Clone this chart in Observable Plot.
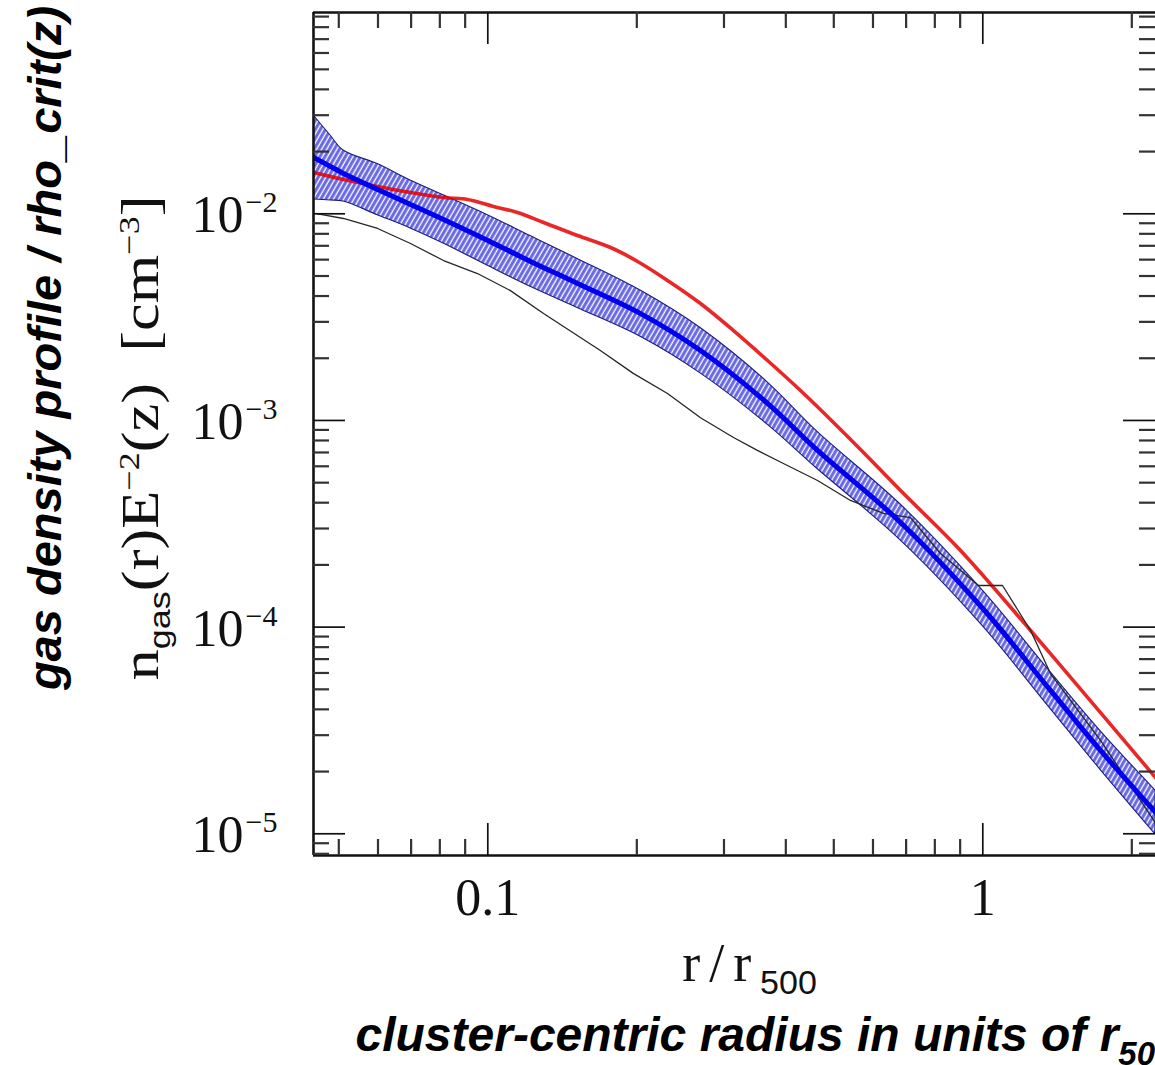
<!DOCTYPE html>
<html>
<head>
<meta charset="utf-8">
<script src="https://cdn.jsdelivr.net/npm/d3@7"></script>
<script src="https://cdn.jsdelivr.net/npm/@observablehq/plot@0.6"></script>
<style>
  html, body { margin: 0; padding: 0; background: #fff; overflow: hidden; }
  svg text { white-space: pre; }
</style>
</head>
<body>
<div id="chart"></div>
<script>
// ---------------- data ----------------
const xDomain = [0.04445, 2.233];
const yDomain = [7.85e-6, 9.42e-2];

// red curve
const redR = [0.0445, 0.0511, 0.0599, 0.0698, 0.0814, 0.0910, 0.1027, 0.1148, 0.1296, 0.1518, 0.1770, 0.2007, 0.2307, 0.2690, 0.3136, 0.3674, 0.4282, 0.4993, 0.5741, 0.6821, 0.9015, 1.249, 1.729, 2.233];
const redV = [0.01585, 0.01466, 0.01356, 0.01268, 0.01199, 0.01173, 0.01085, 0.01015, 0.00908, 0.00785, 0.00687, 0.00588, 0.00476, 0.00368, 0.00272, 0.00195, 0.001396, 0.000978, 0.000700, 0.000458, 0.000235, 0.0000963, 0.0000386, 0.0000187];

// blue band (hatched) and its central line
const bandR   = [0.0445, 0.0481, 0.0511, 0.0599, 0.0698, 0.0814, 0.1, 0.1220, 0.1518, 0.2035, 0.2690, 0.3674, 0.4636, 0.6821, 1.0, 1.370, 1.729, 2.233];
const bandHi  = [0.02990, 0.02393, 0.02024, 0.01740, 0.01450, 0.01230, 0.00985, 0.00780, 0.00605, 0.00425, 0.00280, 0.00153, 0.000880, 0.000392, 0.000150, 0.0000606, 0.0000314, 0.0000162];
const bandLo  = [0.01173, 0.01160, 0.01147, 0.00985, 0.00850, 0.00718, 0.00560, 0.00443, 0.00350, 0.00254, 0.00169, 0.000955, 0.000582, 0.000263, 0.000101, 0.0000402, 0.0000204, 0.00000992];
const blueMid = [0.01873, 0.01694, 0.01567, 0.01311, 0.01109, 0.00938, 0.00743, 0.00588, 0.00460, 0.00329, 0.00218, 0.00121, 0.000716, 0.000321, 0.000123, 0.0000494, 0.0000253, 0.0000127];

// thin black curve
const blackR = [0.0451, 0.0511, 0.0599, 0.0698, 0.0814, 0.0953, 0.1111, 0.1296, 0.1688, 0.1967, 0.2307, 0.2690, 0.3136, 0.3504, 0.3955, 0.4636, 0.5404, 0.6301, 0.7144, 0.8214, 0.9802, 1.0960, 1.249, 1.370, 1.729, 2.233];
const blackV = [0.01003, 0.00949, 0.00849, 0.00718, 0.00594, 0.00514, 0.00425, 0.00329, 0.00218, 0.00169, 0.00135, 0.00103, 0.000827, 0.000716, 0.000619, 0.000512, 0.000410, 0.000355, 0.000339, 0.000227, 0.000159, 0.000159, 0.0000963, 0.0000596, 0.0000283, 0.0000113];

// ticks and tick labels
const xMajorTicks = [0.1, 1];
const xTickLabels = ["0.1", "1"];
const xMinorTicks = [0.05, 0.06, 0.07, 0.08, 0.09, 0.2, 0.3, 0.4, 0.5, 0.6, 0.7, 0.8, 0.9, 2];
const yMajorTicks = [1e-2, 1e-3, 1e-4, 1e-5];
const yTickBase = "10";
const yTickExponents = ["\u22122", "\u22123", "\u22124", "\u22125"];
const yMinorTicks = [
  8e-6, 9e-6,
  2e-5, 3e-5, 4e-5, 5e-5, 6e-5, 7e-5, 8e-5, 9e-5,
  2e-4, 3e-4, 4e-4, 5e-4, 6e-4, 7e-4, 8e-4, 9e-4,
  2e-3, 3e-3, 4e-3, 5e-3, 6e-3, 7e-3, 8e-3, 9e-3,
  2e-2, 3e-2, 4e-2, 5e-2, 6e-2, 7e-2, 8e-2, 9e-2
];

// axis titles (pieces: normal / sub / sup)
const yTitleParts = ["n", "gas", "(r)E", "\u22122", "(z)  [cm", "\u22123", "]"];
const yTitleRoles = ["", "sub", "", "sup", "", "sup", ""];
const xTitleParts = ["r/r", "500"];
const xTitleRoles = ["", "sub"];
const captionLeft = "gas density profile / rho_crit(z)";
const captionBottomParts = ["cluster-centric radius in units of r", "500"];
const captionBottomRoles = ["", "sub"];

// ---------------- build ----------------
const red = redR.map((r, i) => ({r, v: redV[i]}));
const band = bandR.map((r, i) => ({r, lo: bandLo[i], hi: bandHi[i], mid: blueMid[i]}));
const black = blackR.map((r, i) => ({r, v: blackV[i]}));

const W = 1155, H = 1065, mL = 313, mT = 12, mR = 0, mB = 210;
const iw = W - mL - mR, ih = H - mT - mB;
const minorLen = 16, majorLen = 32;
const serif = "Liberation Serif, Times New Roman, serif";
const sans = "Liberation Sans, Arial, sans-serif";
const join = a => a.join("");

const svg = Plot.plot({
  width: W, height: H,
  marginLeft: mL, marginTop: mT, marginRight: mR, marginBottom: mB,
  x: {type: "log", domain: xDomain, axis: null},
  y: {type: "log", domain: yDomain, axis: null},
  style: {background: "#fff", overflow: "hidden"},
  marks: [
    // data
    Plot.areaY(band, {x: "r", y1: "lo", y2: "hi", fill: "url(#hatch)", stroke: "#1c1c7a", strokeWidth: 1.1, curve: "catmull-rom", clip: true}),
    Plot.line(red, {x: "r", y: "v", stroke: "#e60000", strokeOpacity: 0.85, strokeWidth: 3.6, curve: "catmull-rom", clip: true}),
    Plot.line(black, {x: "r", y: "v", stroke: "#262626", strokeWidth: 1.3, clip: true}),
    Plot.line(band, {x: "r", y: "mid", stroke: "#0000ee", strokeWidth: 5, curve: "catmull-rom", clip: true}),

    // frame (right side lies outside the picture)
    Plot.ruleX([xDomain[0]], {stroke: "#111", strokeWidth: 2.6}),
    Plot.ruleY([yDomain[0]], {stroke: "#111", strokeWidth: 2.6}),
    Plot.ruleY([yDomain[1]], {stroke: "#111", strokeWidth: 2.6}),

    // inward ticks on four sides
    Plot.tickX(xMinorTicks, {x: d => d, insetTop: ih - minorLen, stroke: "#333", strokeWidth: 2.2}),
    Plot.tickX(xMinorTicks, {x: d => d, insetBottom: ih - minorLen, stroke: "#333", strokeWidth: 2.2}),
    Plot.tickX(xMajorTicks, {x: d => d, insetTop: ih - majorLen, stroke: "#111", strokeWidth: 1.7}),
    Plot.tickX(xMajorTicks, {x: d => d, insetBottom: ih - majorLen, stroke: "#111", strokeWidth: 1.7}),
    Plot.tickY(yMinorTicks, {y: d => d, insetRight: iw - minorLen, stroke: "#333", strokeWidth: 2.2}),
    Plot.tickY(yMinorTicks, {y: d => d, insetLeft: iw - minorLen, stroke: "#333", strokeWidth: 2.2}),
    Plot.tickY(yMajorTicks, {y: d => d, insetRight: iw - majorLen, stroke: "#111", strokeWidth: 1.7}),
    Plot.tickY(yMajorTicks, {y: d => d, insetLeft: iw - majorLen, stroke: "#111", strokeWidth: 1.7}),

    // tick labels
    Plot.text(xMajorTicks, {x: d => d, text: (d, i) => xTickLabels[i], frameAnchor: "bottom", textAnchor: "middle", lineAnchor: "middle", dy: 43, fontFamily: serif, fontSize: 52, fill: "#111"}),
    Plot.text(yMajorTicks, {y: d => d, text: () => yTickBase, frameAnchor: "left", textAnchor: "end", lineAnchor: "middle", dx: -70, dy: 2, fontFamily: serif, fontSize: 52, fill: "#111"}),
    Plot.text(yMajorTicks, {y: d => d, text: (d, i) => yTickExponents[i], frameAnchor: "left", textAnchor: "start", lineAnchor: "middle", dx: -68, dy: -11, fontFamily: serif, fontSize: 30, fill: "#111"}),

    // axis titles
    Plot.text([join(yTitleParts)], {text: d => d, frameAnchor: "left", textAnchor: "middle", lineAnchor: "middle", rotate: -90, dx: -172, dy: 4, fontFamily: serif, fontSize: 52, fill: "#111"}),
    Plot.text([join(xTitleParts)], {text: d => d, frameAnchor: "bottom", textAnchor: "middle", lineAnchor: "middle", dx: 15, dy: 108, fontFamily: serif, fontSize: 54, fill: "#111"}),
    Plot.text([captionLeft], {text: d => d, frameAnchor: "left", textAnchor: "middle", lineAnchor: "middle", rotate: -90, dx: -268, dy: -86, fontFamily: sans, fontSize: 47, fontWeight: "bold", fontStyle: "italic", fill: "#000"}),
    Plot.text([join(captionBottomParts)], {text: d => d, frameAnchor: "bottom-left", textAnchor: "start", lineAnchor: "middle", dx: 42, dy: 180, fontFamily: sans, fontSize: 48, fontWeight: "bold", fontStyle: "italic", fill: "#000"})
  ]
});

// hatch pattern for the blue band
const defs = d3.select(svg).insert("defs", ":first-child");
const pat = defs.append("pattern").attr("id", "hatch").attr("patternUnits", "userSpaceOnUse")
  .attr("width", 4.4).attr("height", 4.4).attr("patternTransform", "rotate(30)");
pat.append("rect").attr("width", 4.4).attr("height", 4.4).attr("fill", "#5858e2").attr("fill-opacity", 0.9);
pat.append("line").attr("x1", 1.2).attr("y1", 0).attr("x2", 1.2).attr("y2", 4.4)
  .attr("stroke", "#ffffff").attr("stroke-width", 1.3);

// turn plain titles into rich text with sub/superscripts
function richify(plain, parts, roles, opt) {
  const t = Array.from(svg.querySelectorAll("text")).find(e => e.textContent === plain);
  if (!t) return;
  while (t.firstChild) t.removeChild(t.firstChild);
  let shift = 0;
  parts.forEach((p, i) => {
    const ts = document.createElementNS("http://www.w3.org/2000/svg", "tspan");
    const role = roles[i];
    const target = role === "sub" ? opt.sub : role === "sup" ? -opt.sup : 0;
    ts.setAttribute("dy", target - shift);
    shift = target;
    if (role) {
      ts.setAttribute("font-size", opt.small);
      if (role === "sub" && opt.subFamily) ts.setAttribute("font-family", opt.subFamily);
    } else if (opt.spacing) {
      ts.setAttribute("letter-spacing", opt.spacing);
    }
    ts.textContent = p;
    t.appendChild(ts);
  });
  if (opt.length) {
    t.setAttribute("textLength", opt.length);
    t.setAttribute("lengthAdjust", "spacingAndGlyphs");
  }
}
richify(join(yTitleParts), yTitleParts, yTitleRoles, {sub: 12, sup: 19, small: 30, subFamily: sans, length: 485});
richify(join(xTitleParts), xTitleParts, xTitleRoles, {sub: 13, sup: 18, small: 34, subFamily: sans, spacing: 9});
richify(join(captionBottomParts), captionBottomParts, captionBottomRoles, {sub: 14, sup: 18, small: 33});

document.getElementById("chart").appendChild(svg);
</script>
</body>
</html>
